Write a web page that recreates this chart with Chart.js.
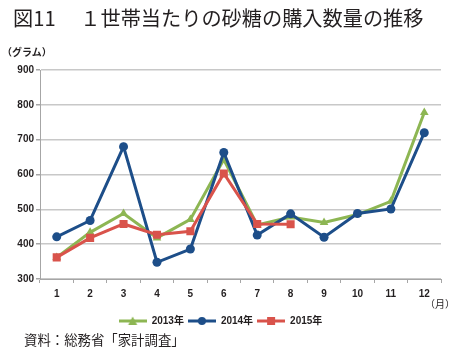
<!DOCTYPE html>
<html>
<head>
<meta charset="utf-8">
<script src="https://cdn.jsdelivr.net/npm/chart.js@4.4.1/dist/chart.umd.min.js"></script>
<style>
  body { margin: 0; background: #fff; }
  #wrap { position: relative; width: 450px; height: 348px; overflow: hidden; font-family: "Noto Sans CJK JP", sans-serif; color: #231f20; }
  #chart { position: absolute; left: 0; top: 0; }
  .txt { position: absolute; white-space: nowrap; }
  #title { left: 13px; top: 3px; font-size: 20.2px; }
  #unit { left: 2px; top: 44px; font-size: 10px; font-weight: bold; }
  #month { left: 425px; top: 296px; font-size: 10px; }
  #source { left: 24px; top: 329px; font-size: 13.4px; }
</style>
</head>
<body>
<div id="wrap">
  <canvas id="chart" width="450" height="348"></canvas>
  <div class="txt" id="title">図11　 １世帯当たりの砂糖の購入数量の推移</div>
  <div class="txt" id="unit">（グラム）</div>
  <div class="txt" id="month">（月）</div>
  <div class="txt" id="source">資料：総務省「家計調査」</div>
</div>
<script>
var months = ['1', '2', '3', '4', '5', '6', '7', '8', '9', '10', '11', '12'];
var sugar2013 = [362, 434, 488, 418, 471, 643, 455, 478, 462, 485, 523, 778];
var sugar2014 = [421, 468, 680, 348, 386, 663, 426, 487, 420, 488, 501, 720];
var sugar2015 = [362, 418, 458, 427, 437, 603, 458, 457];
var seriesNames = ['2013年', '2014年', '2015年'];

var green = '#8db653';
var blue = '#1d4e89';
var red = '#d9534b';

// little "line with a marker" image for the legend
function legendIcon(color, style) {
  var c = document.createElement('canvas');
  c.width = 28;
  c.height = 10;
  var g = c.getContext('2d');
  g.strokeStyle = color;
  g.lineWidth = 3;
  g.beginPath();
  g.moveTo(0, 5);
  g.lineTo(28, 5);
  g.stroke();
  g.fillStyle = color;
  g.beginPath();
  if (style === 'circle') g.arc(14, 5, 4, 0, Math.PI * 2);
  if (style === 'rect') g.rect(10, 1, 8, 8);
  if (style === 'triangle') { g.moveTo(14, 0.5); g.lineTo(18.5, 9); g.lineTo(9.5, 9); g.closePath(); }
  g.fill();
  return c;
}

var numFont = { family: '"Liberation Sans", "Noto Sans CJK JP", sans-serif', size: 10, weight: 'bold' };

var ctx = document.getElementById('chart').getContext('2d');
var myChart = new Chart(ctx, {
  type: 'line',
  data: {
    labels: months,
    datasets: [
      {
        label: seriesNames[0],
        data: sugar2013,
        borderColor: green,
        backgroundColor: green,
        borderWidth: 3,
        pointStyle: 'triangle',
        pointRadius: 5,
        pointBorderWidth: 0,
        tension: 0,
        order: 3
      },
      {
        label: seriesNames[1],
        data: sugar2014,
        borderColor: blue,
        backgroundColor: blue,
        borderWidth: 3,
        pointStyle: 'circle',
        pointRadius: 4.5,
        pointBorderWidth: 0,
        tension: 0,
        order: 2
      },
      {
        label: seriesNames[2],
        data: sugar2015,
        borderColor: red,
        backgroundColor: red,
        borderWidth: 3,
        pointStyle: 'rect',
        pointRadius: 5.7,
        pointBorderWidth: 0,
        tension: 0,
        order: 1
      }
    ]
  },
  options: {
    responsive: false,
    animation: false,
    layout: { padding: { top: 70, right: 9, bottom: 12, left: 0 } },
    plugins: {
      tooltip: { enabled: false },
      legend: {
        display: true,
        position: 'bottom',
        labels: {
          usePointStyle: true,
          pointStyleWidth: 28,
          padding: 4,
          color: '#231f20',
          font: numFont,
          generateLabels: function (chart) {
            var styles = ['triangle', 'circle', 'rect'];
            return chart.data.datasets.map(function (ds, i) {
              return {
                text: ds.label,
                pointStyle: legendIcon(ds.borderColor, styles[i]),
                fillStyle: ds.borderColor,
                strokeStyle: ds.borderColor,
                lineWidth: 0,
                fontColor: '#231f20',
                datasetIndex: i
              };
            });
          }
        }
      }
    },
    scales: {
      x: {
        offset: true,
        afterFit: function (s) { s.height = 33; },
        border: { color: '#a6a6a6', width: 1 },
        grid: { offset: true, drawOnChartArea: false, drawTicks: true, tickLength: 4, color: '#a6a6a6' },
        ticks: { color: '#231f20', font: numFont, padding: 5, maxRotation: 0 }
      },
      y: {
        min: 300,
        max: 900,
        afterFit: function (s) { s.width = 40; },
        border: { color: '#a6a6a6', width: 1 },
        grid: { color: '#c8c8c8', lineWidth: 1.5, tickLength: 4, tickColor: '#a6a6a6' },
        ticks: { stepSize: 100, color: '#231f20', font: numFont, padding: 2 }
      }
    }
  }
});
</script>
</body>
</html>
